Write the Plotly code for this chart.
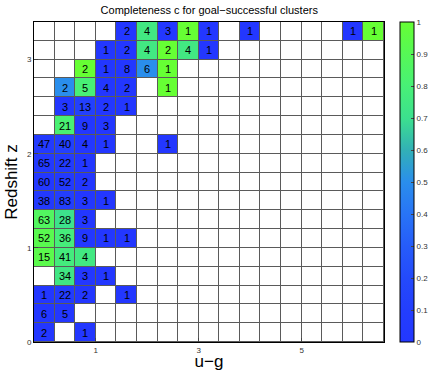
import plotly.graph_objects as go

# bin centres
ug_centres = [round(-0.0 + 0.4 * i, 2) for i in range(17)]
z_centres = [round(0.1 + 0.2 * j, 2) for j in range(17)]

N = None
# number of clusters per bin, rows from z=0.1 (bottom) up to z=3.3 (top)
counts = [
    [2, N, 1, N, N, N, N, N, N, N, N, N, N, N, N, N, N],
    [6, 5, N, N, N, N, N, N, N, N, N, N, N, N, N, N, N],
    [1, 22, 2, N, 1, N, N, N, N, N, N, N, N, N, N, N, N],
    [N, 34, 3, 1, N, N, N, N, N, N, N, N, N, N, N, N, N],
    [15, 41, 4, N, N, N, N, N, N, N, N, N, N, N, N, N, N],
    [52, 36, 9, 1, 1, N, N, N, N, N, N, N, N, N, N, N, N],
    [63, 28, 3, N, N, N, N, N, N, N, N, N, N, N, N, N, N],
    [38, 83, 3, 1, N, N, N, N, N, N, N, N, N, N, N, N, N],
    [60, 52, 2, N, N, N, N, N, N, N, N, N, N, N, N, N, N],
    [65, 22, 1, N, N, N, N, N, N, N, N, N, N, N, N, N, N],
    [47, 40, 4, 1, N, N, 1, N, N, N, N, N, N, N, N, N, N],
    [N, 21, 9, 3, N, N, N, N, N, N, N, N, N, N, N, N, N],
    [N, 3, 13, 2, 1, N, N, N, N, N, N, N, N, N, N, N, N],
    [N, 2, 5, 4, 2, N, 1, N, N, N, N, N, N, N, N, N, N],
    [N, N, 2, 1, 8, 6, 1, N, N, N, N, N, N, N, N, N, N],
    [N, N, N, 1, 2, 4, 2, 4, 1, N, N, N, N, N, N, N, N],
    [N, N, N, N, 2, 4, 3, 1, 1, N, 1, N, N, N, N, 1, 1],
]

# completeness per bin
completeness = [
    [0, N, 0, N, N, N, N, N, N, N, N, N, N, N, N, N, N],
    [0, 0, N, N, N, N, N, N, N, N, N, N, N, N, N, N, N],
    [0, 0.05, 0, N, 0, N, N, N, N, N, N, N, N, N, N, N, N],
    [N, 0.74, 0, 0, N, N, N, N, N, N, N, N, N, N, N, N, N],
    [0.93, 0.77, 0.75, N, N, N, N, N, N, N, N, N, N, N, N, N, N],
    [0.92, 0.78, 0, 0, 0, N, N, N, N, N, N, N, N, N, N, N, N],
    [0.87, 0.71, 0, N, N, N, N, N, N, N, N, N, N, N, N, N, N],
    [0.03, 0.1, 0, 0, N, N, N, N, N, N, N, N, N, N, N, N, N],
    [0.02, 0.04, 0, N, N, N, N, N, N, N, N, N, N, N, N, N, N],
    [0.03, 0.05, 0, N, N, N, N, N, N, N, N, N, N, N, N, N, N],
    [0.04, 0.12, 0, 0, N, N, 0, N, N, N, N, N, N, N, N, N, N],
    [N, 0.81, 0, 0, N, N, N, N, N, N, N, N, N, N, N, N, N],
    [N, 0, 0.12, 0, 0, N, N, N, N, N, N, N, N, N, N, N, N],
    [N, 0.5, 0.8, 0, 0, N, 1, N, N, N, N, N, N, N, N, N, N],
    [N, N, 1, 0, 0, 0.5, 1, N, N, N, N, N, N, N, N, N, N],
    [N, N, N, 0, 0, 0.75, 1, 0.75, 0, N, N, N, N, N, N, N, N],
    [N, N, N, N, 0, 0.75, 0, 1, 0, N, 0, N, N, N, N, 0, 1],
]

x_ticks = [1, 3, 5]
y_ticks = [0, 1, 2, 3]
cbar_ticks = [0, 0.1, 0.2, 0.3, 0.4, 0.5, 0.6, 0.7, 0.8, 0.9, 1]

cmap = [
    [0.0, "rgb(35,55,255)"], [0.1, "rgb(35,62,253)"], [0.2, "rgb(36,74,251)"],
    [0.3, "rgb(38,92,249)"], [0.4, "rgb(40,116,246)"], [0.5, "rgb(42,142,236)"],
    [0.6, "rgb(50,176,182)"], [0.7, "rgb(60,224,142)"], [0.8, "rgb(72,240,118)"],
    [0.9, "rgb(86,248,86)"], [1.0, "rgb(102,255,52)"],
]

text = [["" if c is None else str(c) for c in row] for row in counts]
blank = [[0] * len(ug_centres) for _ in z_centres]

fig = go.Figure()
fig.add_trace(go.Heatmap(x=ug_centres, y=z_centres, z=blank, xgap=1, ygap=1,
                         colorscale=[[0, "white"], [1, "white"]], showscale=False,
                         hoverinfo="skip"))
fig.add_trace(go.Heatmap(
    x=ug_centres, y=z_centres, z=completeness, text=text, texttemplate="%{text}",
    textfont=dict(size=11, color="black", family="Liberation Sans"),
    xgap=1, ygap=1, zmin=0, zmax=1, colorscale=cmap, hoverinfo="skip",
    colorbar=dict(x=1.046, xanchor="left", xpad=0, ypad=0, y=0.5, len=1,
                  thickness=14, outlinecolor="black", outlinewidth=1,
                  tickvals=cbar_ticks, ticktext=[("%g" % t) for t in cbar_ticks],
                  ticks="inside", ticklen=3, tickfont=dict(size=8, color="#333")),
))

fig.update_layout(
    width=436, height=371,
    margin=dict(l=34, r=52, t=22, b=29, autoexpand=False),
    paper_bgcolor="white", plot_bgcolor="#5a5a5a",
    font=dict(family="Liberation Sans", color="black"),
    title=dict(text="Completeness c for goal\u2212successful clusters",
               x=0.48, xanchor="center", y=0.972, yanchor="middle",
               font=dict(size=11)),
    showlegend=False,
)
fig.update_xaxes(range=[-0.2, 6.6], tickvals=x_ticks, ticks="inside", ticklen=4,
                 showgrid=False, zeroline=False, showline=True, mirror=True,
                 linecolor="black", linewidth=1, tickfont=dict(size=8, color="#333"),
                 automargin=False,
                 title=dict(text="u\u2212g", font=dict(size=17), standoff=5))
fig.update_yaxes(range=[0, 3.4], tickvals=y_ticks, ticks="inside", ticklen=4,
                 showgrid=False, zeroline=False, showline=True, mirror=True,
                 linecolor="black", linewidth=1, tickfont=dict(size=8, color="#333"),
                 automargin=False,
                 title=dict(text="Redshift z", font=dict(size=17), standoff=4))

fig.write_html("out.html", config={"displayModeBar": False},
               post_script="document.body.style.margin='0';")
